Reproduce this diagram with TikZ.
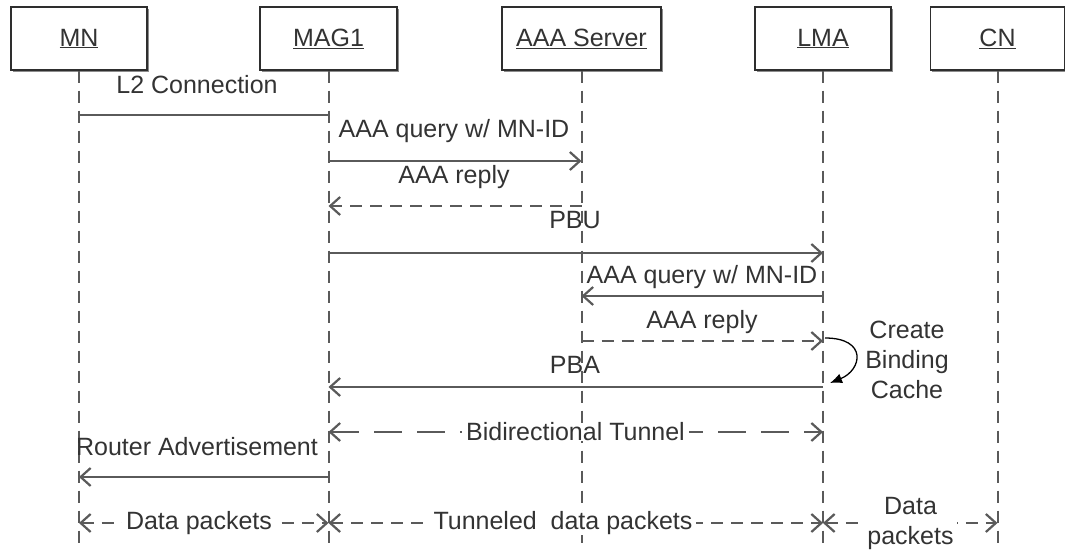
\documentclass[tikz,border=0pt]{standalone}
\usepackage{fontspec}
\setmainfont{Liberation Sans}
\usetikzlibrary{arrows.meta,shadows,calc}
\definecolor{ink}{HTML}{333333}
\definecolor{wire}{HTML}{5A5A5A}
\definecolor{frame}{HTML}{2E2E2E}

\begin{document}
\begin{tikzpicture}[x=1pt,y=-1pt,
  font=\fontsize{25}{30}\selectfont, text=ink,
  actor/.style={draw=frame, line width=1.4pt, fill=white, minimum height=63pt,
    inner sep=0pt,
    drop shadow={shadow xshift=1.5pt,shadow yshift=-1.5pt,fill=black!45,opacity=1}},
  lifeline/.style={draw=wire, line width=2pt, dash pattern=on 12pt off 8pt},
  msg/.style={draw=wire, line width=2.2pt},
  reply/.style={msg, dash pattern=on 12pt off 8pt},
  tunnel/.style={msg, dash pattern=on 28pt off 15pt},
  tip/.style={-{Straight Barb[length=10pt,width=18pt]}},
  tips/.style={{Straight Barb[length=10pt,width=18pt]}-{Straight Barb[length=10pt,width=18pt]}},
  lbl/.style={anchor=base, inner sep=0pt},
  onlbl/.style={fill=white, inner xsep=4pt, inner ysep=0pt},
  selfarrow/.style={draw=black, line width=1.3pt, -{Latex[length=12pt,width=10pt]}},
]
\useasboundingbox (0,0) rectangle (1065,549);

% participants
\node[actor, minimum width=136pt] (mn)  at (79,38.5)    {\underline{MN}};
\node[actor, minimum width=137pt] (mag) at (328.5,38.5) {\underline{MAG1}};
\node[actor, minimum width=159pt] (aaa) at (581.5,38.5) {\underline{AAA Server}};
\node[actor, minimum width=136pt] (lma) at (823,38.5)   {\underline{LMA}};
\node[actor, minimum width=134pt] (cn)  at (997.5,38.5) {\underline{CN}};

% message rows
\coordinate (r1)  at (0,115);
\coordinate (r2)  at (0,161);
\coordinate (r3)  at (0,206);
\coordinate (r4)  at (0,253);
\coordinate (r5)  at (0,296);
\coordinate (r6)  at (0,341);
\coordinate (r7)  at (0,387);
\coordinate (r8)  at (0,432);
\coordinate (r9)  at (0,477);
\coordinate (r10) at (0,523);
\coordinate (bot) at (0,549);

% lifelines
\foreach \p in {mn,mag,aaa,lma,cn}
  \draw[lifeline] (\p.south) -- (\p.south |- bot);

% messages
\draw[msg]        (mn |- r1)  -- (mag |- r1);
\draw[msg,tip]    (mag |- r2) -- (aaa |- r2);
\draw[reply,tip]  (aaa |- r3) -- (mag |- r3);
\draw[msg,tip]    (mag |- r4) -- (lma |- r4);
\draw[msg,tip]    (lma |- r5) -- (aaa |- r5);
\draw[reply,tip]  (aaa |- r6) -- (lma |- r6);
\draw[msg,tip]    (lma |- r7) -- (mag |- r7);
\draw[tunnel,tips] (mag |- r8) -- (lma |- r8);
\draw[msg,tip]    (mag |- r9) -- (mn |- r9);
\draw[reply,tips] (mn |- r10)  -- (mag |- r10);
\draw[reply,tips] (mag |- r10) -- (lma |- r10);
\draw[reply,tips] (lma |- r10) -- (cn |- r10);

% binding cache creation at the LMA
\draw[selfarrow] ($(lma |- r6)+(2,-3)$) .. controls +(43,0) and +(32,-13) .. ($(lma |- r7)+(7,-4)$);

% labels
\node[lbl] (t1) at (197,93)  {L2 Connection};
\node[lbl] (t2) at (454,137) {AAA query w/ MN-ID};
\node[lbl] (t3) at (454,183) {AAA reply};
\node[lbl] (t4) at (575,228) {PBU};
\node[lbl] (t5) at (702,283) {AAA query w/ MN-ID};
\node[lbl] (t6) at (702,328) {AAA reply};
\node[lbl] (t7) at (575,373) {PBA};
\node[onlbl] (t8) at (575.5,432) {Bidirectional Tunnel};
\node[lbl] (t9) at (197,455) {Router Advertisement};
\node[onlbl] (t10) at (199,523) {Data packets};
\node[onlbl] (t11) at (563,523) {Tunneled~~data packets};
\node[onlbl, align=center, inner xsep=3pt] (t12) at (910.5,523) {Data\\packets};
\node[align=center, inner sep=0pt] (t13) at (907,359.5) {Create\\Binding\\Cache};
\end{tikzpicture}
\end{document}
